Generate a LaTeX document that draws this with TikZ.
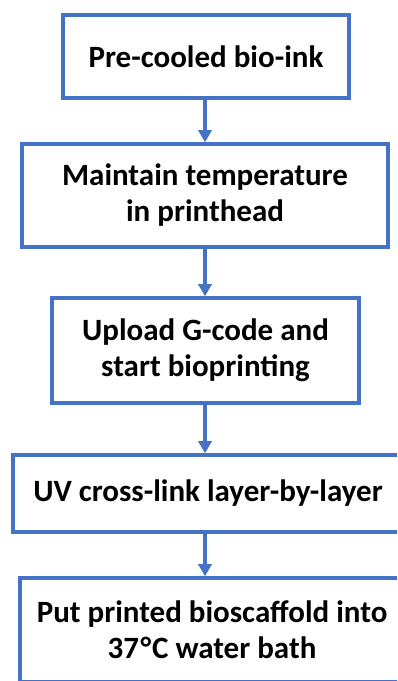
\documentclass[tikz,border=0pt]{standalone}
\usepackage{fontspec}
\setmainfont{Carlito}
\usetikzlibrary{arrows.meta}
\definecolor{flowblue}{HTML}{4472C4}
\begin{document}
\begin{tikzpicture}[x=1pt, y=1pt,
        every node/.style={rectangle, draw=flowblue, line width=3.5pt, inner sep=0pt, align=center,
            font=\fontsize{31}{36}\selectfont\bfseries},
        flow/.style={draw=flowblue, line width=3.5pt, -{Triangle[length=12pt, width=13pt]}}]
        \useasboundingbox (0, 0) rectangle (397, 681);
        \clip (0, 0) rectangle (397, 681);
        \node[minimum width=286, minimum height=83] (precool) at (206, 624.5) {Pre-cooled bio-ink};
        \node[minimum width=366, minimum height=103] (maintain) at (205, 485.5) {Maintain temperature\\in printhead};
        \node[minimum width=307, minimum height=105] (upload) at (205.5, 330.5) {Upload G-code and\\start bioprinting};
        \node[minimum width=390, minimum height=77] (uvlink) at (208, 187.5) {UV cross-link layer-by-layer};
        \node[minimum width=384, minimum height=104] (bath) at (212, 51) {Put printed bioscaffold into\\37\kern1.5pt\textdegree\kern1pt C water bath};
        \draw[flow] (precool.south -| 205, 0) -- (maintain.north -| 205, 0);
        \draw[flow] (maintain.south -| 205, 0) -- (upload.north -| 205, 0);
        \draw[flow] (upload.south -| 205, 0) -- (uvlink.north -| 205, 0);
        \draw[flow] (uvlink.south -| 205, 0) -- (bath.north -| 205, 0);
    \end{tikzpicture}
\end{document}
